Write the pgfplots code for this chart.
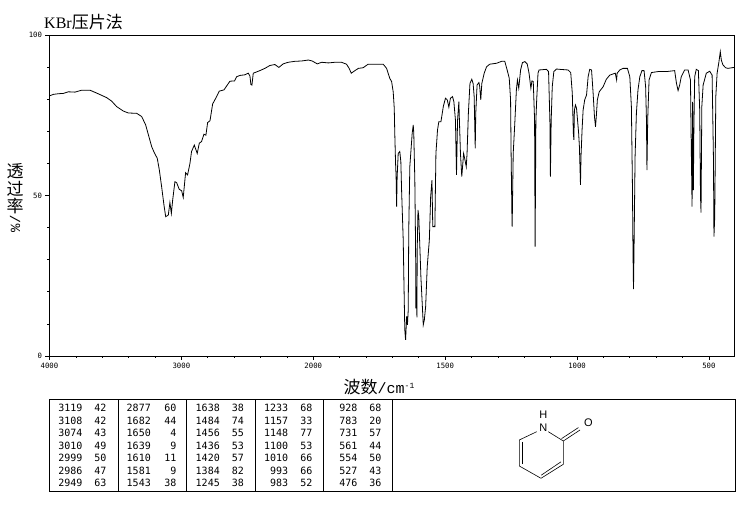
\documentclass[border=0pt]{standalone}
\usepackage{fontspec}
\usepackage{pgfplots}
\usepackage{pgfplotstable}
\pgfplotsset{compat=1.18}
\setmainfont{Liberation Serif}
\newfontfamily\cjk{Noto Sans CJK SC}
\newfontfamily\tb{DejaVu Sans Mono}
\newfontfamily\lm{Liberation Mono}
\newfontfamily\ls{Liberation Sans}

\pgfplotstableread{
w T
3996 81.1
3971 81.5
3933 81.7
3895 81.8
3857 82.3
3807 82.2
3756 82.8
3693 82.8
3642 81.9
3567 80.5
3529 79.4
3491 77.7
3440 76.3
3402 75.7
3339 75.6
3301 74.6
3271 72.0
3246 68.3
3225 65.2
3205 63.3
3183 61.6
3167 57.9
3150 52.8
3132 47.0
3119 43.4
3099 43.9
3087 47.8
3076 44.4
3066 48.6
3049 54.3
3036 54.0
3016 51.9
2998 51.5
2986 49.4
2968 57.1
2953 56.4
2935 60.0
2923 63.7
2902 65.7
2880 63.1
2864 66.3
2847 66.8
2829 69.1
2814 68.8
2801 72.7
2783 73.3
2763 78.5
2733 80.8
2713 82.5
2677 82.9
2632 85.6
2597 85.7
2581 87.0
2556 87.4
2518 87.6
2493 88.1
2480 87.2
2473 84.6
2465 84.4
2455 88.1
2442 88.3
2405 88.9
2367 89.6
2329 90.5
2291 90.8
2261 89.9
2228 91.0
2190 91.5
2139 91.8
2089 91.9
2038 92.2
2008 91.9
1985 91.0
1968 91.5
1943 91.3
1918 91.5
1893 91.5
1874 90.9
1864 89.6
1856 88.1
1842 88.9
1829 89.6
1811 89.8
1792 90.9
1760 90.9
1735 90.9
1722 89.6
1710 86.5
1703 85.5
1697 82.3
1693 77.2
1691 69.4
1688 60.0
1686 55.9
1684 46.5
1682 55.9
1678 63.1
1672 63.7
1668 60.5
1665 51.2
1659 36.1
1656 21.6
1653 8.1
1650 5.0
1646 12.3
1643 9.7
1640 14.3
1638 39.3
1634 59.0
1625 69.4
1621 72.0
1619 69.4
1615 54.8
1612 33.0
1611 14.8
1609 21.6
1607 12.0
1606 33.0
1603 45.5
1600 43.4
1596 34.1
1592 24.7
1587 16.4
1583 9.7
1579 11.2
1574 15.4
1568 27.8
1560 36.1
1555 49.6
1550 54.8
1547 40.3
1539 40.3
1535 63.1
1529 70.4
1524 73.0
1516 73.0
1507 77.7
1499 80.3
1492 79.8
1486 77.5
1480 80.3
1472 80.8
1467 79.2
1461 73.5
1457 56.4
1453 73.5
1448 79.2
1446 73.5
1442 63.1
1437 55.9
1434 59.0
1430 63.1
1425 61.1
1420 59.0
1417 63.1
1412 75.6
1406 84.9
1399 86.2
1394 84.9
1390 80.8
1386 64.7
1384 75.6
1379 84.4
1372 85.2
1369 83.9
1365 79.8
1361 84.9
1352 88.1
1343 90.1
1331 90.9
1305 91.2
1286 91.8
1274 91.8
1265 89.1
1257 86.5
1252 79.8
1250 63.1
1247 44.4
1246 40.3
1242 63.1
1236 72.5
1230 82.9
1226 86.0
1221 83.4
1214 89.1
1207 91.4
1198 91.7
1189 91.0
1182 88.1
1175 83.4
1171 85.7
1166 85.5
1161 73.5
1159 34.1
1156 73.5
1153 79.8
1148 88.1
1144 89.1
1116 89.3
1108 88.6
1103 73.5
1101 55.9
1098 73.5
1094 83.9
1088 88.6
1078 89.4
1066 89.3
1034 89.1
1024 88.3
1018 81.8
1014 69.4
1012 67.3
1010 76.6
1006 78.2
1002 77.2
996 71.4
994 69.4
991 65.2
987 53.3
985 62.1
981 70.4
977 76.6
971 79.8
964 81.3
958 87.0
952 89.3
945 89.1
939 81.8
934 74.6
930 71.4
927 74.6
923 79.8
916 82.3
901 83.9
889 86.2
876 87.5
855 88.1
850 86.0
848 88.1
838 89.1
826 89.6
809 89.6
800 87.0
794 77.7
790 52.8
788 33.0
786 20.8
784 33.0
780 62.1
775 75.6
769 82.9
762 87.0
754 88.9
746 88.9
740 83.9
737 74.0
735 57.9
732 74.0
727 86.0
718 88.3
693 88.6
661 88.6
630 88.9
623 84.9
617 82.7
611 84.4
605 87.0
592 89.1
579 89.1
570 86.0
568 71.4
564 46.5
562 79.2
559 51.7
557 71.4
554 87.0
548 89.3
540 88.9
535 76.6
532 49.6
530 44.7
527 77.7
522 84.4
510 88.1
497 88.7
488 87.5
483 62.1
481 37.2
478 43.4
474 80.8
469 88.1
462 91.7
457 94.8
453 92.2
447 90.7
437 89.8
428 89.6
405 89.9
}\spectrum

\begin{document}
\begin{tikzpicture}
\path[use as bounding box] (0,0) rectangle (738pt,510pt);
\begin{axis}[
  at={(49.5pt,154pt)}, anchor=south west,
  scale only axis, width=684.5pt, height=321pt,
  % x is stretched by two below 2000: u = w above it, u = 2w-2000 below
  x dir=reverse, xmin=-1190, xmax=4000, ymin=0, ymax=100,
  xtick={4000,3000,2000,1000,0,-1000},
  xticklabels={4000,3000,2000,1500,1000,500},
  minor xtick={3800,3600,3400,3200,2800,2600,2400,2200,1800,1600,1400,1200,800,600,400,200,-200,-400,-600,-800},
  ytick={0,50,100},
  minor ytick={10,20,30,40,60,70,80,90},
  tick pos=left, tick align=outside,
  major tick length=4pt, minor tick length=2pt,
  every tick/.style={black,line width=0.7pt},
  minor tick style={black,line width=0.7pt},
  axis line style={line width=0.8pt},
  tick label style={font=\tb\fontsize{7.3}{8}\selectfont},
  /pgf/number format/assume math mode=true,
  /pgf/number format/1000 sep={},
]
\addplot[black,line width=0.8pt,no marks,sharp plot] table[x expr={\thisrow{w}>=2000?\thisrow{w}:2*\thisrow{w}-2000},y=T] {\spectrum};
\end{axis}

\begin{scope}[x=1pt,y=-1pt,shift={(0pt,510pt)}]
% title and axis names
\node[anchor=west,inner sep=0pt] at (44,22) {\fontsize{16}{16}\selectfont KBr\cjk\fontsize{17}{17}\selectfont 压片法};
\node[inner sep=0pt] at (379,387) {\cjk\fontsize{17}{17}\selectfont 波数\lm\fontsize{15}{15}\selectfont/cm\raisebox{5pt}{\fontsize{8}{8}\selectfont -1}};
\foreach \c/\y in {透/171,过/189,率/206}
  \node[inner sep=0pt] at (15,\y) {\cjk\fontsize{17}{17}\selectfont \c};
\node[inner sep=0pt,rotate=90] at (15,224) {\lm\fontsize{14}{14}\selectfont \%/};

% peak table
\draw[line width=0.8pt] (49.5,399.5) rectangle (735,491);
\foreach \x in {118.3,186.7,255,323.3,392.7}
  \draw[line width=0.8pt] (\x,399.5) -- (\x,491);
\foreach \ca/\cb/\rows in {
  82.7/106.7/{3119/42,3108/42,3074/43,3010/49,2999/50,2986/47,2949/63},
  151/176.7/{2877/60,1682/44,1650/4,1639/9,1610/11,1581/9,1543/38},
  220/244/{1638/38,1484/74,1456/55,1436/53,1420/57,1384/82,1245/38},
  288.3/312.7/{1233/68,1157/33,1148/77,1100/53,1010/66,993/66,983/52},
  357.7/381.7/{928/68,783/20,731/57,561/44,554/50,527/43,476/36}} {
  \foreach \a/\b [count=\i from 0] in \rows {
    \pgfmathsetmacro{\ry}{408+12.5*\i}
    \node[anchor=east,inner sep=0pt] at (\ca,\ry) {\tb\fontsize{10}{10}\selectfont \a};
    \node[anchor=east,inner sep=0pt] at (\cb,\ry) {\tb\fontsize{10}{10}\selectfont \b};
  }
}

% structure
\draw[line width=0.6pt] (536.7,431.7) -- (519.3,440) -- (519.3,466) -- (541,478.3) -- (563.3,464.3) -- (563.3,441) -- (548.3,431.7);
\draw[line width=0.6pt] (521.9,442) -- (521.9,464.5);
\draw[line width=0.6pt] (541.2,475.2) -- (561,461.8);
\draw[line width=0.6pt] (563.3,441) -- (580,430);
\draw[line width=0.6pt] (561.6,438.6) -- (578.4,427.6);
\node[inner sep=0pt] at (543.3,427.3) {\ls\fontsize{11}{11}\selectfont N};
\node[inner sep=0pt] at (543.3,414.3) {\ls\fontsize{11}{11}\selectfont H};
\node[inner sep=0pt] at (588.3,422.7) {\ls\fontsize{11}{11}\selectfont O};
\end{scope}
\end{tikzpicture}
\end{document}
